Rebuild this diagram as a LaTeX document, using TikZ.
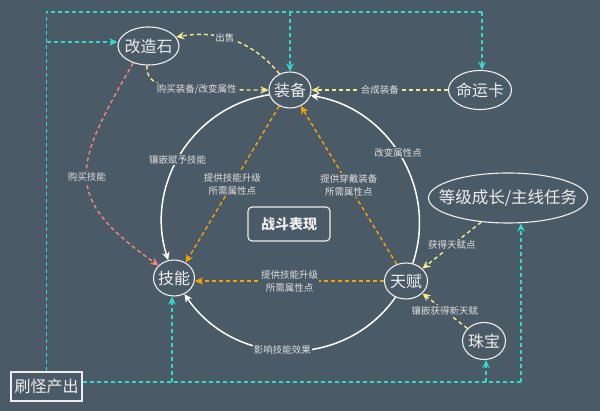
\documentclass[tikz,border=0pt]{standalone}
\usepackage{fontspec}
\newfontfamily\cjk{Noto Sans CJK SC}
\usetikzlibrary{shapes.geometric,arrows.meta}
\definecolor{bg}{HTML}{4B5A67}
\definecolor{cy}{HTML}{33D9C7}
\definecolor{yl}{HTML}{F4EC8C}
\definecolor{og}{HTML}{F5A300}
\definecolor{pk}{HTML}{F0877E}
\definecolor{txt}{HTML}{EDEDED}
\definecolor{ltxt}{HTML}{E0E0E0}
\definecolor{nl}{HTML}{EEEEEE}
\newcommand{\zc}[1]{\makebox[0pt]{#1}}
\begin{document}
\begin{tikzpicture}[x=1pt,y=1pt,
  ell/.style={ellipse,draw=nl,line width=1.1pt,inner sep=0pt,text=txt,font=\cjk\fontsize{16}{16}\selectfont},
  box/.style={rectangle,draw=nl,line width=1.1pt,inner sep=0pt,text=txt,font=\cjk\fontsize{16}{16}\selectfont},
  lbl/.style={fill=bg,inner sep=1pt,text=ltxt,font=\cjk\fontsize{9.5}{13}\selectfont,align=center},
  dsh/.style={line width=1.4pt,dash pattern=on 4pt off 3pt},
  tip/.style={-{Stealth[length=8pt,width=7.5pt,inset=2.5pt]}},
  cyl/.style={dsh,draw=cy,fill=none},
  yll/.style={dsh,draw=yl,fill=none},
  ogl/.style={dsh,draw=og,fill=none},
  pkl/.style={dsh,draw=pk,fill=none},
  wl/.style={line width=1.5pt,draw=white,fill=none}
]
\fill[bg] (0,0) rectangle (600,411);
\useasboundingbox (0,0) rectangle (600,411);

% nodes
\node[ell,minimum width=61pt,minimum height=38pt] (gz) at (148.5,365) {\zc{改造石}};
\node[ell,minimum width=42pt,minimum height=36pt] (zb) at (290,321) {\zc{装备}};
\node[ell,minimum width=63pt,minimum height=39pt] (mk) at (480,321) {\zc{命运卡}};
\node[ell,minimum width=159pt,minimum height=50pt,font=\cjk\fontsize{16.5}{16.5}\selectfont] (dj) at (508,213) {\zc{等级成长/主线任务}};
\node[ell,minimum width=41pt,minimum height=36pt] (jn) at (174,133) {\zc{技能}};
\node[ell,minimum width=43pt,minimum height=36pt] (tf) at (406,130) {\zc{天赋}};
\node[ell,minimum width=43pt,minimum height=37pt] (zbao) at (484,70) {\zc{珠宝}};
\node[box,minimum width=71pt,minimum height=29pt] (sg) at (46.5,24.5) {\zc{刷怪产出}};
\node[box,rounded corners=4pt,minimum width=82pt,minimum height=34pt,font=\cjk\fontsize{14}{14}\selectfont\bfseries] (zd) at (289,187) {\zc{战斗表现}};

% cyan network
\coordinate (t0) at (46.5,399);
\coordinate (t1) at (46.5,369);
\coordinate (t2) at (290,399);
\coordinate (t3) at (482,399);
\draw[cyl] (sg.north) -- (t0) -- (t3);
\draw[cyl,tip] (t3) -- (t3 |- mk.north);
\draw[cyl,tip] (t2) -- (zb.north);
\draw[cyl,tip] (t1) -- (t1 -| gz.west);
\coordinate (b1) at (172,29);
\coordinate (b2) at (486,29);
\coordinate (b3) at (521,29);
\draw[cyl] (sg.east |- b1) -- (b3);
\draw[cyl,tip] (b3) -- (b3 |- dj.south);
\draw[cyl,tip] (b1) -- (b1 |- jn.south);
\draw[cyl,tip] (b2) -- (b2 |- zbao.south);

% yellow
\draw[yll,tip] (zb.123) to[out=130,in=10] node[lbl,pos=0.58]{出售} (gz.18);
\draw[yll,tip] (gz.265) to[out=-90,in=180,out looseness=0.45,in looseness=2.2] node[lbl,pos=0.71]{购买装备/改变属性} (zb.west);
\draw[yll,tip] (mk.west) -- node[lbl]{合成装备} (zb.east);
\draw[yll,tip] (dj.222) -- node[lbl]{获得天赋点} (tf.37);
\draw[yll,tip] (zbao.143) -- node[lbl]{镶嵌获得新天赋} (tf.323);

% orange
\draw[ogl,tip] (zb.236) -- node[lbl]{提供技能升级\\所需属性点} (jn.53);
\draw[ogl,tip] (tf.119) -- node[lbl]{提供穿戴装备\\所需属性点} (zb.304);
\draw[ogl,tip] (tf.west) -- node[lbl]{提供技能升级\\所需属性点} (tf.west -| jn.east);

% pink
\draw[pkl,tip] (gz.228) to[out=240,in=145,looseness=1.5] node[lbl,pos=0.5]{购买技能} (jn.141);

% white arcs
\draw[wl,tip] (zb.193) to[out=188.6,in=107.8,looseness=1.03] node[lbl,pos=0.53]{镶嵌赋予技能} (jn.108);
\draw[wl,tip] (tf.69) to[out=71.3,in=-9.4,looseness=1.03] node[lbl,pos=0.52]{改变属性点} (zb.345);
\draw[wl,tip] (tf.237) to[out=-125,in=-55.7,looseness=1.08] node[lbl,pos=0.53]{影响技能效果} (jn.303);
\end{tikzpicture}
\end{document}
